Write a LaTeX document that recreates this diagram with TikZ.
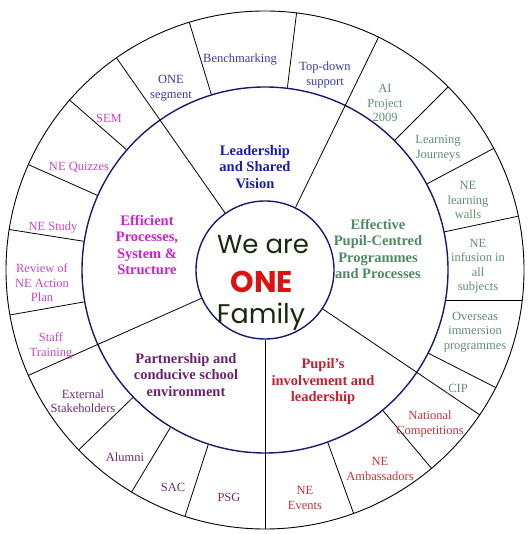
\documentclass[tikz,border=0pt]{standalone}
\usepackage{fontspec}
\setmainfont{Liberation Serif}
\newfontfamily\comicfont{Poppins}
\usetikzlibrary{calc}
\definecolor{navy}{HTML}{1A1A70}
\definecolor{leadc}{HTML}{1C1CAA}
\definecolor{leadl}{HTML}{3A3AA8}
\definecolor{effc}{HTML}{4F8A62}
\definecolor{effl}{HTML}{5F8F73}
\definecolor{pupc}{HTML}{C42030}
\definecolor{pupl}{HTML}{C4323A}
\definecolor{parc}{HTML}{6A2270}
\definecolor{parl}{HTML}{6E2A74}
\definecolor{efic}{HTML}{CC22CC}
\definecolor{efil}{HTML}{CC44CC}
\definecolor{onered}{HTML}{DD1111}
\definecolor{darkgreen}{HTML}{1A2A10}
\tikzset{
  lbl/.style={inner sep=0pt, align=center, font=\fontsize{12.5}{14.5}\selectfont},
  ttl/.style={inner sep=0pt, align=center, font=\fontsize{14.5}{16.5}\selectfont\bfseries},
  cen/.style={inner sep=0pt, align=center},
  divider/.style={draw=black, line width=0.8pt},
  ring/.style={draw=navy, line width=1.4pt},
  rim/.style={draw=black, line width=0.9pt}
}
\begin{document}
\begin{tikzpicture}[x=1pt,y=1pt]
\useasboundingbox (0,0) rectangle (530,534);
\fill[white] (0,0) rectangle (530,534);
\coordinate (c) at (265,264);
% circles
\draw[rim] (c) circle (259pt);
\draw[ring] (c) circle (183pt);
\draw[ring] (c) circle (69pt);
% main dividers (inner to outer)
\foreach \a in {125,64,-34,-90,204}
  \draw[divider] ($(c)+(\a:69.7pt)$) -- ($(c)+(\a:259pt)$);
% outer ring dividers
\foreach \a in {107,83,45,28,12,-27,-50,-70,-108,239,224,190,171,156,139}
  \draw[divider] ($(c)+(\a:183.7pt)$) -- ($(c)+(\a:259pt)$);
\draw[divider] ($(c)+(180.5,-30)$) -- ($(c)+(257.3,-30)$);
% centre text
\node[cen, text=darkgreen, font=\comicfont\fontsize{26}{28}\selectfont] (we) at (263,289) {We are};
\node[cen, text=onered, font=\comicfont\fontsize{30}{32}\selectfont\bfseries] (one) at (262,252) {ONE};
\node[cen, text=darkgreen, font=\comicfont\fontsize{27}{29}\selectfont] (fam) at (261,217) {Family};
% titles
\node[ttl, text=leadc] (t1) at (255,367) {Leadership\\and Shared\\Vision};
\node[ttl, text=efic] (t2) at (147,289) {Efficient\\Processes,\\System \&\\Structure};
\node[ttl, text=effc] (t3) at (378,285) {Effective\\Pupil-Centred\\Programmes\\and Processes};
\node[ttl, text=parc] (t4) at (186,159) {Partnership and\\conducive school\\environment};
\node[ttl, text=pupc] (t5) at (323,152) {Pupil’s\\involvement and\\leadership};
% leadership labels
\node[lbl, text=leadl] (l1) at (240,474) {Benchmarking};
\node[lbl, text=leadl] (l2) at (171,446) {ONE\\segment};
\node[lbl, text=leadl] (l3) at (325,459) {Top-down\\support};
% efficient labels
\node[lbl, text=efil] (e1) at (109,416) {SEM};
\node[lbl, text=efil] (e2) at (79,367) {NE Quizzes};
\node[lbl, text=efil] (e3) at (53,306) {NE Study};
\node[lbl, text=efil] (e4) at (42,251) {Review of\\NE Action\\Plan};
\node[lbl, text=efil] (e5) at (51,188) {Staff\\Training};
% partnership labels
\node[lbl, text=parl] (p1) at (83,133) {External\\Stakeholders};
\node[lbl, text=parl] (p2) at (125,77) {Alumni};
\node[lbl, text=parl] (p3) at (173,47) {SAC};
\node[lbl, text=parl] (p4) at (229,37) {PSG};
% pupil labels
\node[lbl, text=pupl] (u1) at (305,36) {NE\\Events};
\node[lbl, text=pupl] (u2) at (380,65) {NE\\Ambassadors};
\node[lbl, text=pupl] (u3) at (430,110) {National\\Competitions};
% effective labels
\node[lbl, text=effl] (f1) at (458,146) {CIP};
\node[lbl, text=effl] (f2) at (475,202) {Overseas\\immersion\\programmes};
\node[lbl, text=effl] (f3) at (478,268) {NE\\infusion in\\all\\subjects};
\node[lbl, text=effl] (f4) at (468,334) {NE\\learning\\walls};
\node[lbl, text=effl] (f5) at (438,386) {Learning\\Journeys};
\node[lbl, text=effl] (f6) at (385,431) {AI\\Project\\2009};
\end{tikzpicture}
\end{document}
